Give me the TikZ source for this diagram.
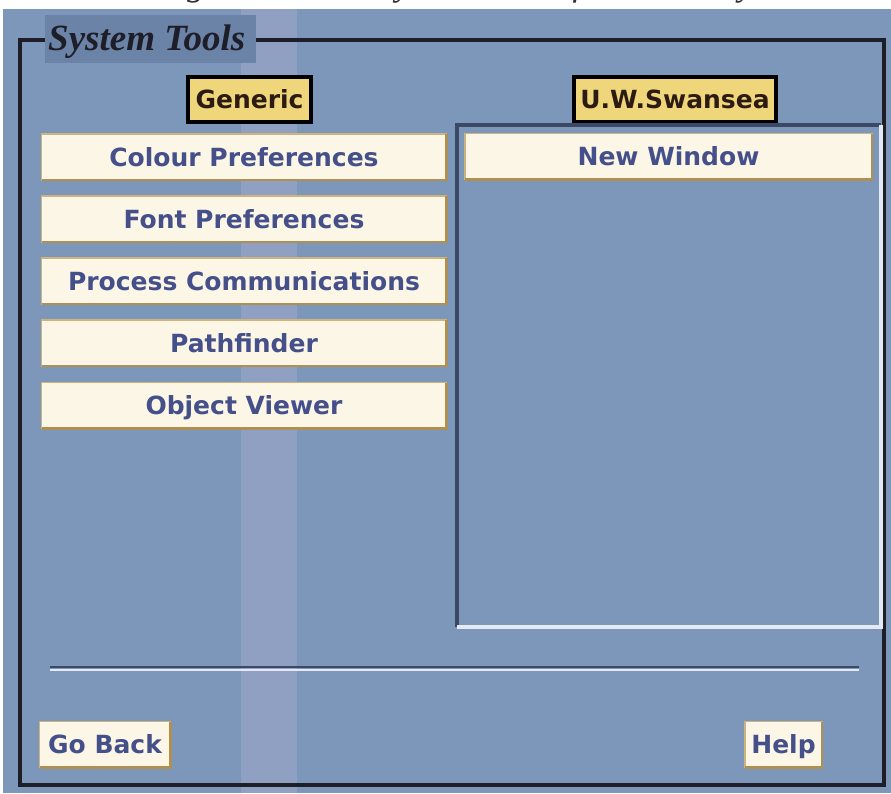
\documentclass[tikz,border=0pt]{standalone}
\usepackage{fontspec}
\setmainfont{Liberation Serif}
\newfontfamily\uifont{DejaVu Sans}
\usetikzlibrary{positioning}

\definecolor{deskbg}{HTML}{7D97BA}
\definecolor{bandcol}{HTML}{A9ACCF}
\definecolor{titlebg}{HTML}{6A83A6}
\definecolor{framecol}{HTML}{1E1E28}
\definecolor{tagfill}{HTML}{F0D67B}
\definecolor{tagtext}{HTML}{2B1B12}
\definecolor{btnfill}{HTML}{FBF6E6}
\definecolor{btnedge}{HTML}{CDB47E}
\definecolor{btnshade}{HTML}{B08F52}
\definecolor{btntext}{HTML}{45508A}
\definecolor{sunkdark}{HTML}{3C4864}
\definecolor{sunklight}{HTML}{E4E9F6}

\tikzset{
  uitext/.style={font=\uifont\bfseries\fontsize{25}{27}\selectfont,
    text height=18.2pt, text depth=0pt, inner sep=0pt, outer sep=0pt},
  tagbox/.style={uitext, draw=black, line width=3.4pt, fill=tagfill,
    text=tagtext, minimum height=45pt},
  btnbox/.style={uitext, draw=btnedge, line width=1.8pt, fill=btnfill,
    text=btntext, minimum height=46pt},
  btnshadow/.style={draw=btnshade, line width=2.6pt},
  groove/.style={draw=framecol, line width=3.6pt},
}

\begin{document}
\begin{tikzpicture}[x=1pt,y=-1pt]
\useasboundingbox (0,0) rectangle (891,793);
\begin{scope}
\clip (0,0) rectangle (891,793);
% page and the cut caption line above the screen
\fill[white] (0,0) rectangle (891,793);
\node[anchor=base west, inner sep=0pt, font=\itshape\fontsize{36}{38}\selectfont,
  text=black!80] (caption) at (155,-5) {Figure 5.6 The System Tools functionality};

% screen background with the lighter vertical band
\fill[deskbg] (3,9) rectangle (891,793);
\fill[bandcol, opacity=0.45] (241,9) rectangle (297,793);

% title patch and title
\fill[titlebg] (45,15) rectangle (256,63);
\node[anchor=base west, inner sep=0pt, text=framecol,
  font=\bfseries\itshape\fontsize{37}{39}\selectfont] (title) at (48,50) {System Tools};

% outer frame
\coordinate (fA) at (45,40);
\coordinate (fB) at (20,40);
\coordinate (fC) at (20,785);
\coordinate (fD) at (884,785);
\coordinate (fE) at (884,40);
\coordinate (fF) at (256,40);
\draw[groove] (fA) -- (fB) -- (fC) -- (fD) -- (fE) -- (fF);

% column headings
\node[tagbox, minimum width=123pt] (generic) at (249.5,99.5) {Generic};
\node[tagbox, minimum width=202pt] (uws) at (675,99.5) {U.W.Swansea};

% sunken list panel on the right
\node[inner sep=0pt, outer sep=0pt, minimum width=424pt, minimum height=502pt,
  fill=deskbg] (panel) at (669,376) {};
\draw[sunkdark, line width=3.2pt] (panel.south west) -- (panel.north west) -- (panel.north east);
\draw[sunklight, line width=3.2pt] (panel.south west) -- (panel.south east) -- (panel.north east);

% tool buttons
\node[btnbox, minimum width=405pt] (colour)  at (244,157) {Colour Preferences};
\node[btnbox, minimum width=405pt] (fontp)   at (244,219) {Font Preferences};
\node[btnbox, minimum width=405pt] (process) at (244,281) {Process Communications};
\node[btnbox, minimum width=405pt] (path)    at (244,343) {Pathfinder};
\node[btnbox, minimum width=405pt] (objview) at (244,405.5) {Object Viewer};
\node[btnbox, minimum width=407pt] (newwin)  at (668.5,156.5) {New Window};

% separator groove
\coordinate (sepL) at (50,667);
\coordinate (sepR) at (859,667);
\draw[sunkdark, line width=2pt] (sepL) -- (sepR);
\draw[sunklight, line width=1.8pt] ([yshift=-2.6pt]sepL) -- ([yshift=-2.6pt]sepR);

% bottom buttons
\node[btnbox, minimum width=131pt] (goback) at (105,744.5) {Go Back};
\node[btnbox, minimum width=77pt]  (help)   at (783.5,744.5) {Help};

% button bevels
\foreach \b in {colour,fontp,process,path,objview,newwin,goback,help}{
  \draw[btnshadow] (\b.south west) -- (\b.south east) -- (\b.north east);
}
\end{scope}
\end{tikzpicture}
\end{document}
